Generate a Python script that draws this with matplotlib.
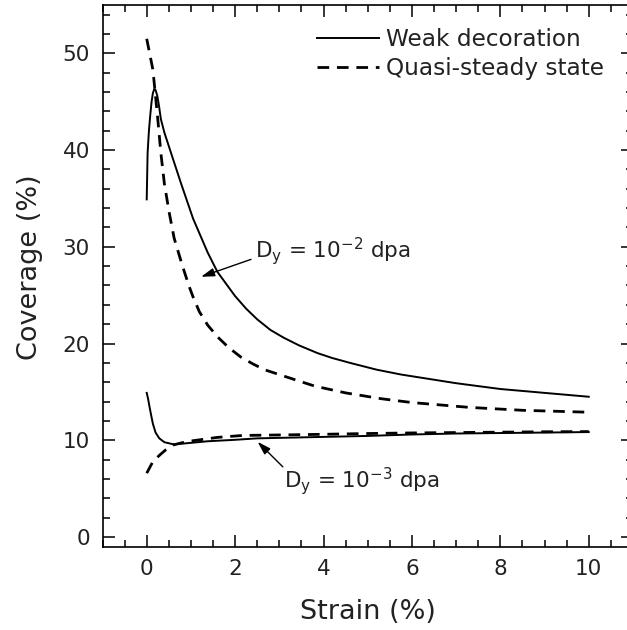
import matplotlib
matplotlib.use("Agg")
import matplotlib.pyplot as plt
from matplotlib.ticker import MultipleLocator

plt.rcParams['font.family'] = ['DejaVu Sans']
TXT = '#222222'

# Dy = 1e-2 dpa, weak decoration (solid)
strain_weak_2 = [0, 0.02, 0.05, 0.08, 0.11, 0.14, 0.17, 0.2, 0.24, 0.28, 0.32, 0.4,
                 0.55, 0.78, 1.05, 1.38, 1.6, 2.0, 2.25, 2.5, 2.8, 3.1, 3.45, 3.87,
                 4.2, 4.6, 5.2, 5.75, 7.0, 8.0, 9.0, 10.0]
cov_weak_2 = [34.9, 39.7, 42.0, 43.6, 45.0, 45.9, 46.3, 46.2, 45.6, 44.5, 43.2, 41.8,
              39.7, 36.5, 32.9, 29.4, 27.4, 24.9, 23.6, 22.5, 21.4, 20.6, 19.8, 19.0,
              18.5, 18.0, 17.3, 16.8, 15.9, 15.3, 14.9, 14.5]

# Dy = 1e-2 dpa, quasi-steady state (dashed)
strain_qss_2 = [0, 0.14, 0.25, 0.32, 0.4, 0.51, 0.62, 0.81, 0.96, 1.05, 1.19, 1.38,
                1.6, 1.85, 2.13, 2.4, 2.66, 3.26, 3.8, 4.5, 5.3, 6.0, 7.3, 8.5, 10.0]
cov_qss_2 = [51.5, 48.3, 43.2, 39.7, 36.5, 33.5, 30.9, 28.0, 25.9, 24.8, 23.3, 21.9,
             20.7, 19.6, 18.6, 17.9, 17.3, 16.4, 15.6, 14.9, 14.3, 13.9, 13.4, 13.1, 12.9]

# Dy = 1e-3 dpa, weak decoration (solid)
strain_weak_3 = [0, 0.03, 0.07, 0.1, 0.14, 0.2, 0.285, 0.4, 0.59, 0.8, 1.38, 2.0,
                 2.5, 3.0, 4.0, 5.0, 6.0, 7.0, 8.0, 9.0, 10.0]
cov_weak_3 = [14.9, 14.3, 13.3, 12.6, 11.7, 10.8, 10.2, 9.8, 9.6, 9.65, 9.9, 10.05,
              10.2, 10.25, 10.35, 10.45, 10.6, 10.7, 10.75, 10.8, 10.85]

# Dy = 1e-3 dpa, quasi-steady state (dashed)
strain_qss_3 = [0, 0.14, 0.3, 0.44, 0.59, 0.8, 1.04, 1.6, 2.17, 3.0, 4.0, 5.0, 6.0,
                7.0, 8.0, 9.0, 10.0]
cov_qss_3 = [6.6, 7.8, 8.5, 9.05, 9.5, 9.75, 9.95, 10.3, 10.5, 10.55, 10.62, 10.7,
             10.76, 10.8, 10.84, 10.88, 10.9]

fig = plt.figure(figsize=(6.27, 6.30), dpi=100)
ax = fig.add_axes([0.1635, 0.1322, 0.846, 0.86])

solid_kw = dict(color='black', lw=1.4)
dash_kw = dict(color='black', lw=2.0, linestyle=(0, (4.2, 2.8)))

ax.plot(strain_weak_2, cov_weak_2, label='Weak decoration', **solid_kw)
ax.plot(strain_qss_2, cov_qss_2, label='Quasi-steady state', **dash_kw)
ax.plot(strain_weak_3, cov_weak_3, **solid_kw)
ax.plot(strain_qss_3, cov_qss_3, **dash_kw)

ax.set_xlim(-1, 11)
ax.set_ylim(-1, 55)
ax.xaxis.set_major_locator(MultipleLocator(2))
ax.xaxis.set_minor_locator(MultipleLocator(0.5))
ax.yaxis.set_major_locator(MultipleLocator(10))
ax.yaxis.set_minor_locator(MultipleLocator(2))
ax.tick_params(which='both', direction='in', top=True, right=True,
               width=1.1, colors='black', labelcolor=TXT, labelsize=15.5)
ax.tick_params(which='major', length=8.6)
ax.tick_params(which='minor', length=5)
ax.tick_params(axis='x', pad=9)
ax.tick_params(axis='y', pad=9)
for s in ax.spines.values():
    s.set_linewidth(1.2)

ax.set_xlabel('Strain (%)', fontsize=19.5, color=TXT)
ax.set_ylabel('Coverage (%)', fontsize=19.5, color=TXT)
ax.xaxis.set_label_coords(0.5, -0.097)
ax.yaxis.set_label_coords(-0.112, 0.515)

arrow_kw = dict(arrowstyle='-|>,head_length=0.8,head_width=0.25', color='black',
                lw=1.0, shrinkA=0, shrinkB=0)
ax.annotate('', xy=(1.23, 26.9), xytext=(2.36, 28.7), arrowprops=arrow_kw)
ax.text(2.45, 29.6, r'D$_\mathregular{y}$ = 10$^\mathregular{-2}$ dpa', fontsize=15.5,
        color=TXT, ha='left', va='center')
ax.annotate('', xy=(2.51, 9.84), xytext=(3.08, 7.25), arrowprops=arrow_kw)
ax.text(3.1, 5.8, r'D$_\mathregular{y}$ = 10$^\mathregular{-3}$ dpa', fontsize=15.5,
        color=TXT, ha='left', va='center')

leg = ax.legend(loc='upper left', bbox_to_anchor=(0.404, 0.9575), frameon=False,
                fontsize=16.7, handlelength=2.7, handletextpad=0.3,
                borderpad=0, borderaxespad=0, labelspacing=0.27)
for t in leg.get_texts():
    t.set_color(TXT)

fig.savefig('out.png', dpi=100)
